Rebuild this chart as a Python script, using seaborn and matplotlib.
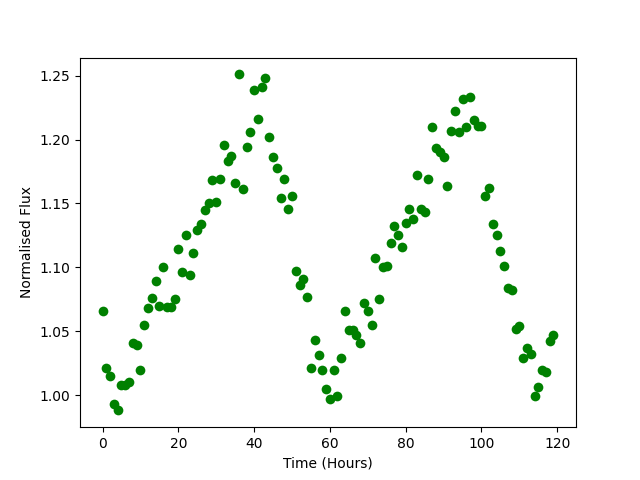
import numpy as np
import pandas as pd
import seaborn as sns
import matplotlib
matplotlib.use("Agg")
import matplotlib.pyplot as plt

# Hourly observations, normalised flux
hours = np.arange(120)
flux = [
    1.066, 1.021, 1.015, 0.993, 0.988, 1.008, 1.008, 1.010, 1.041, 1.039,
    1.020, 1.055, 1.068, 1.076, 1.089, 1.070, 1.100, 1.069, 1.069, 1.075,
    1.114, 1.096, 1.125, 1.094, 1.111, 1.129, 1.134, 1.145, 1.150, 1.168,
    1.151, 1.169, 1.196, 1.183, 1.187, 1.166, 1.251, 1.161, 1.194, 1.206,
    1.239, 1.216, 1.241, 1.248, 1.202, 1.186, 1.178, 1.154, 1.169, 1.146,
    1.156, 1.097, 1.086, 1.091, 1.077, 1.021, 1.043, 1.031, 1.020, 1.005,
    0.997, 1.020, 0.999, 1.029, 1.066, 1.051, 1.051, 1.047, 1.041, 1.072,
    1.066, 1.055, 1.107, 1.075, 1.100, 1.101, 1.119, 1.132, 1.125, 1.116,
    1.135, 1.146, 1.138, 1.172, 1.146, 1.143, 1.169, 1.210, 1.193, 1.190,
    1.186, 1.164, 1.207, 1.222, 1.206, 1.232, 1.210, 1.233, 1.215, 1.211,
    1.211, 1.156, 1.162, 1.134, 1.125, 1.113, 1.101, 1.084, 1.082, 1.052,
    1.054, 1.029, 1.037, 1.032, 0.999, 1.006, 1.020, 1.018, 1.042, 1.047,
]

df = pd.DataFrame({"Time (Hours)": hours, "Normalised Flux": flux})

fig, ax = plt.subplots(figsize=(6.4, 4.8), dpi=100)
sns.scatterplot(data=df, x="Time (Hours)", y="Normalised Flux", ax=ax,
                color="green", s=49, linewidth=0)
ax.set_xlabel("Time (Hours)")
ax.set_ylabel("Normalised Flux")

plt.savefig("out.png", dpi=100)
